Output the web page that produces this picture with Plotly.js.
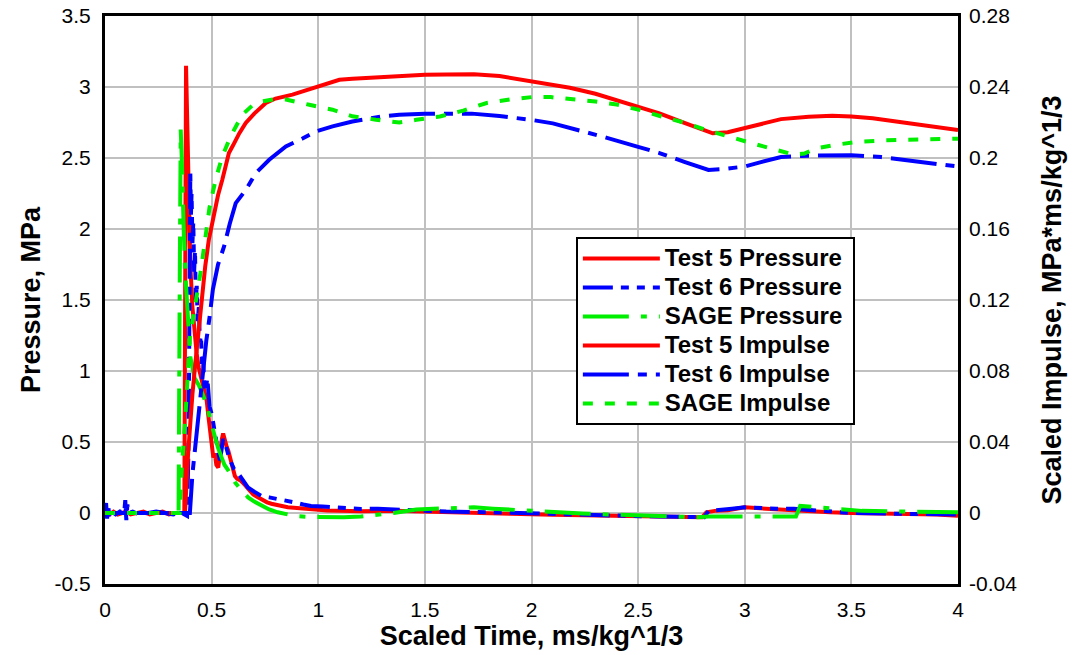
<!DOCTYPE html>
<html><head><meta charset="utf-8">
<script src="https://cdn.plot.ly/plotly-3.0.1.min.js"></script>
<style>html,body{margin:0;padding:0;background:#fff}#chart{width:1073px;height:655px}</style>
</head><body><div id="chart"></div>
<script>
// ---- Series names (legend order) ----
const seriesNames = ["Test 5 Pressure", "Test 6 Pressure", "SAGE Pressure", "Test 5 Impulse", "Test 6 Impulse", "SAGE Impulse"];

// ---- Axis ticks ----
const xTicks = [0, 0.5, 1, 1.5, 2, 2.5, 3, 3.5, 4];
const xTickLabels = ["0", "0.5", "1", "1.5", "2", "2.5", "3", "3.5", "4"];
const yTicks = [-0.5, 0, 0.5, 1, 1.5, 2, 2.5, 3, 3.5];
const yTickLabels = ["-0.5", "0", "0.5", "1", "1.5", "2", "2.5", "3", "3.5"];
const y2Ticks = [-0.04, 0, 0.04, 0.08, 0.12, 0.16, 0.2, 0.24, 0.28];
const y2TickLabels = ["-0.04", "0", "0.04", "0.08", "0.12", "0.16", "0.2", "0.24", "0.28"];

// ---- Test 5 Pressure (MPa) ----
const t5PressureTime = [0, 0.02, 0.04, 0.06, 0.08, 0.10, 0.12, 0.15, 0.18, 0.21, 0.24, 0.27, 0.30, 0.33, 0.36, 0.372, 0.38, 0.385, 0.39, 0.395, 0.40, 0.41, 0.42, 0.43, 0.44, 0.45, 0.46, 0.47, 0.477, 0.485, 0.492, 0.50, 0.508, 0.515, 0.522, 0.531, 0.54, 0.548, 0.554, 0.562, 0.57, 0.578, 0.59, 0.60, 0.609, 0.62, 0.635, 0.655, 0.675, 0.695, 0.717, 0.74, 0.76, 0.78, 0.81, 0.857, 0.9, 0.935, 1.0, 1.043, 1.1, 1.2, 1.354, 1.5, 1.7, 1.9, 2.1, 2.3, 2.5, 2.7, 2.8, 2.82, 2.86, 2.92, 3.0, 3.1, 3.2, 3.3, 3.4, 3.5, 3.7, 3.9, 4.0];
const t5PressureValue = [0.00, -0.01, 0.01, -0.01, 0.00, 0.01, -0.01, 0.00, 0.01, -0.01, 0.00, 0.01, -0.01, 0.00, 0.00, 0.00, 3.15, 2.7, 2.3, 2.0, 1.75, 1.45, 1.25, 1.12, 1.02, 0.95, 0.90, 0.84, 0.79, 0.68, 0.60, 0.48, 0.39, 0.42, 0.34, 0.32, 0.45, 0.52, 0.56, 0.50, 0.47, 0.44, 0.36, 0.30, 0.26, 0.24, 0.23, 0.20, 0.17, 0.13, 0.11, 0.09, 0.075, 0.065, 0.055, 0.04, 0.035, 0.03, 0.02, 0.018, 0.015, 0.012, 0.015, 0.008, 0.0, -0.005, -0.012, -0.018, -0.025, -0.03, -0.03, 0.005, 0.015, 0.02, 0.04, 0.03, 0.02, 0.01, 0.005, 0.0, -0.005, -0.01, -0.02];

// ---- Test 6 Pressure (MPa) ----
const t6PressureTime = [0, 0.005, 0.01, 0.015, 0.02, 0.03, 0.05, 0.07, 0.09, 0.095, 0.10, 0.105, 0.11, 0.13, 0.16, 0.2, 0.24, 0.28, 0.32, 0.36, 0.385, 0.392, 0.396, 0.40, 0.403, 0.406, 0.41, 0.414, 0.418, 0.422, 0.426, 0.43, 0.435, 0.44, 0.445, 0.45, 0.455, 0.46, 0.465, 0.47, 0.48, 0.49, 0.50, 0.508, 0.515, 0.525, 0.532, 0.539, 0.546, 0.554, 0.562, 0.57, 0.58, 0.593, 0.605, 0.624, 0.645, 0.67, 0.7, 0.733, 0.77, 0.81, 0.85, 0.888, 0.93, 0.966, 1.02, 1.075, 1.14, 1.2, 1.28, 1.354, 1.45, 1.6, 1.8, 2.0, 2.2, 2.4, 2.6, 2.75, 2.81, 2.83, 2.88, 2.94, 3.0, 3.06, 3.15, 3.23, 3.35, 3.5, 3.7, 3.9, 4.0];
const t6PressureValue = [0.02, 0.07, -0.04, 0.05, -0.02, 0.01, -0.01, 0.01, 0.0, 0.09, -0.05, 0.06, 0.0, 0.01, -0.01, 0.0, 0.01, 0.0, -0.01, 0.0, -0.02, 0.5, 1.6, 2.4, 2.1, 2.25, 1.9, 2.05, 1.7, 1.85, 1.5, 1.6, 1.35, 1.45, 1.2, 1.25, 1.05, 1.1, 0.9, 0.85, 0.95, 0.75, 0.70, 0.62, 0.58, 0.45, 0.42, 0.37, 0.45, 0.52, 0.50, 0.44, 0.40, 0.35, 0.31, 0.28, 0.23, 0.18, 0.15, 0.12, 0.11, 0.10, 0.085, 0.075, 0.06, 0.05, 0.045, 0.04, 0.035, 0.028, 0.03, 0.025, 0.02, 0.01, 0.005, -0.005, -0.01, -0.018, -0.025, -0.03, -0.03, 0.015, 0.02, 0.03, 0.04, 0.035, 0.03, 0.03, 0.015, 0.0, -0.005, -0.008, -0.01];

// ---- SAGE Pressure (MPa) ----
const sagePressureTime = [0, 0.1, 0.2, 0.3, 0.345, 0.35, 0.355, 0.36, 0.365, 0.37, 0.38, 0.39, 0.40, 0.42, 0.44, 0.46, 0.484, 0.50, 0.515, 0.53, 0.547, 0.56, 0.578, 0.595, 0.609, 0.64, 0.671, 0.70, 0.733, 0.77, 0.81, 0.85, 0.888, 0.95, 1.012, 1.12, 1.2, 1.276, 1.354, 1.46, 1.6, 1.73, 1.82, 1.93, 2.09, 2.24, 2.36, 2.54, 2.78, 2.83, 3.0, 3.18, 3.24, 3.26, 3.35, 3.45, 3.55, 3.77, 4.0];
const sagePressureValue = [0, 0, 0, 0, 0, 1.5, 2.7, 2.5, 2.2, 1.95, 1.6, 1.3, 1.1, 0.95, 0.9, 0.83, 0.72, 0.62, 0.535, 0.46, 0.39, 0.34, 0.30, 0.25, 0.217, 0.16, 0.11, 0.08, 0.052, 0.025, 0.005, -0.01, -0.02, -0.027, -0.03, -0.03, -0.025, -0.015, 0.0, 0.025, 0.035, 0.04, 0.03, 0.02, 0.005, -0.003, -0.01, -0.02, -0.03, -0.025, -0.025, -0.027, -0.025, 0.05, 0.04, 0.025, 0.015, 0.01, 0.005];

// ---- Test 5 Impulse (MPa*ms/kg^1/3) ----
const t5ImpulseTime = [0, 0.375, 0.39, 0.40, 0.41, 0.425, 0.44, 0.455, 0.47, 0.487, 0.51, 0.53, 0.55, 0.5625, 0.581, 0.60, 0.63, 0.66, 0.70, 0.754, 0.80, 0.879, 0.94, 0.989, 1.05, 1.099, 1.16, 1.224, 1.284, 1.38, 1.5, 1.6, 1.73, 1.85, 2.0, 2.09, 2.18, 2.3, 2.4, 2.5, 2.6, 2.72, 2.79, 2.85, 2.92, 3.0, 3.08, 3.17, 3.3, 3.41, 3.5, 3.6, 3.71, 3.85, 4.0];
const t5ImpulseValue = [0, 0, 0.034, 0.052, 0.067, 0.086, 0.105, 0.124, 0.139, 0.154, 0.169, 0.179, 0.1877, 0.193, 0.2028, 0.207, 0.214, 0.2197, 0.225, 0.231, 0.2335, 0.2357, 0.238, 0.2404, 0.2425, 0.2441, 0.2447, 0.2451, 0.2453, 0.2464, 0.2469, 0.2471, 0.2472, 0.2462, 0.2434, 0.2418, 0.2396, 0.2362, 0.2326, 0.2291, 0.2252, 0.2196, 0.2163, 0.2139, 0.2145, 0.2168, 0.2195, 0.2219, 0.2232, 0.2238, 0.2234, 0.2224, 0.2206, 0.2185, 0.2158];

// ---- Test 6 Impulse ----
const t6ImpulseTime = [0, 0.398, 0.41, 0.43, 0.446, 0.461, 0.475, 0.49, 0.506, 0.53, 0.558, 0.585, 0.613, 0.66, 0.707, 0.77, 0.848, 0.926, 0.989, 1.067, 1.16, 1.30, 1.38, 1.5, 1.6, 1.72, 1.85, 2.0, 2.1, 2.22, 2.35, 2.5, 2.6, 2.72, 2.78, 2.83, 2.9, 3.0, 3.08, 3.17, 3.3, 3.5, 3.64, 3.77, 3.9, 4.0];
const t6ImpulseValue = [0, 0, 0.022, 0.045, 0.065, 0.0824, 0.097, 0.11, 0.126, 0.14, 0.150, 0.163, 0.1746, 0.182, 0.1915, 0.199, 0.2065, 0.211, 0.215, 0.2178, 0.2206, 0.2235, 0.2244, 0.225, 0.2252, 0.225, 0.2236, 0.2215, 0.2195, 0.2158, 0.2115, 0.2063, 0.2028, 0.1977, 0.1955, 0.1933, 0.1938, 0.1952, 0.1978, 0.2006, 0.2013, 0.2015, 0.2005, 0.1987, 0.197, 0.1952];

// ---- SAGE Impulse ----
const sageImpulseTime = [0, 0.35, 0.36, 0.375, 0.398, 0.42, 0.45, 0.49, 0.519, 0.55, 0.589, 0.644, 0.69, 0.738, 0.79, 0.848, 0.9, 0.958, 1.067, 1.16, 1.27, 1.38, 1.46, 1.57, 1.68, 1.79, 1.9, 2.0, 2.09, 2.18, 2.3, 2.4, 2.51, 2.62, 2.72, 2.81, 2.9, 3.01, 3.12, 3.23, 3.28, 3.33, 3.43, 3.53, 3.66, 3.8, 4.0];
const sageImpulseValue = [0, 0, 0.025, 0.05, 0.0988, 0.115, 0.137, 0.172, 0.188, 0.2009, 0.2122, 0.2244, 0.2295, 0.2319, 0.2330, 0.2329, 0.2318, 0.230, 0.2272, 0.2235, 0.2216, 0.220, 0.2215, 0.2234, 0.2267, 0.231, 0.233, 0.2343, 0.2343, 0.2333, 0.2318, 0.2301, 0.227, 0.223, 0.2198, 0.2162, 0.2128, 0.2091, 0.2055, 0.2019, 0.2025, 0.2053, 0.2075, 0.2091, 0.2100, 0.2105, 0.2109];

const RED = '#ff0000', BLUE = '#0000ff', GREEN = '#00ee00';
const FONT = 'Liberation Sans, Arial, sans-serif';
const legendName = n => '<span style="font-size:24px">' + n + '</span>&nbsp;';

const traces = [
  {x: t5PressureTime, y: t5PressureValue, name: legendName(seriesNames[0]), yaxis: 'y',
   line: {color: RED, width: 4}},
  {x: t6PressureTime, y: t6PressureValue, name: legendName(seriesNames[1]), yaxis: 'y',
   line: {color: BLUE, width: 4, dash: '30px,8px,8px,8px,8px,8px'}},
  {x: sagePressureTime, y: sagePressureValue, name: legendName(seriesNames[2]), yaxis: 'y',
   line: {color: GREEN, width: 4, dash: '46px,12px,6px,12px'}},
  {x: t5ImpulseTime, y: t5ImpulseValue, name: legendName(seriesNames[3]), yaxis: 'y2',
   line: {color: RED, width: 4}},
  {x: t6ImpulseTime, y: t6ImpulseValue, name: legendName(seriesNames[4]), yaxis: 'y2',
   line: {color: BLUE, width: 4, dash: '46px,9px,9px,9px'}},
  {x: sageImpulseTime, y: sageImpulseValue, name: legendName(seriesNames[5]), yaxis: 'y2',
   line: {color: GREEN, width: 4, dash: '10px,12px'}}
].map(t => Object.assign({type: 'scatter', mode: 'lines'}, t));

const layout = {
  width: 1073, height: 655,
  margin: {l: 105, r: 115, t: 16, b: 71, pad: 0},
  paper_bgcolor: '#ffffff', plot_bgcolor: '#ffffff',
  font: {family: FONT, color: '#000000'},
  showlegend: true,
  legend: {
    x: 0.552, y: 0.611, xanchor: 'left', yanchor: 'top',
    bgcolor: '#ffffff', bordercolor: '#000000', borderwidth: 2,
    font: {family: FONT, size: 20, color: '#000000', weight: 'bold'},
    itemwidth: 77, tracegroupgap: 0
  },
  xaxis: {
    range: [0, 4], tickvals: xTicks, ticktext: xTickLabels,
    showgrid: true, gridcolor: '#c0c0c0', gridwidth: 2,
    showline: true, linecolor: '#000000', linewidth: 3, mirror: true,
    zeroline: false, ticks: '', ticklabelstandoff: 5,
    tickfont: {family: FONT, size: 21, color: '#000000'},
    title: {text: 'Scaled Time, ms/kg^1/3', standoff: 5,
            font: {family: FONT, size: 27, color: '#000000', weight: 'bold'}},
    automargin: false
  },
  yaxis: {
    range: [-0.5, 3.5], tickvals: yTicks, ticktext: yTickLabels,
    showgrid: true, gridcolor: '#c0c0c0', gridwidth: 2,
    showline: true, linecolor: '#000000', linewidth: 3, mirror: true,
    zeroline: false, ticks: '', ticklabelstandoff: 7,
    tickfont: {family: FONT, size: 21, color: '#000000'},
    title: {text: 'Pressure, MPa', standoff: 7,
            font: {family: FONT, size: 27, color: '#000000', weight: 'bold'}},
    automargin: false
  },
  yaxis2: {
    range: [-0.04, 0.28], tickvals: y2Ticks, ticktext: y2TickLabels,
    overlaying: 'y', side: 'right',
    showgrid: false, showline: false, zeroline: false, ticks: '', ticklabelstandoff: 10,
    tickfont: {family: FONT, size: 21, color: '#000000'},
    title: {text: 'Scaled Impulse, MPa*ms/kg^1/3', standoff: 25,
            font: {family: FONT, size: 27, color: '#000000', weight: 'bold'}},
    automargin: false
  },
  hovermode: false
};

Plotly.newPlot('chart', traces, layout, {staticPlot: true, displayModeBar: false});
</script></body></html>
